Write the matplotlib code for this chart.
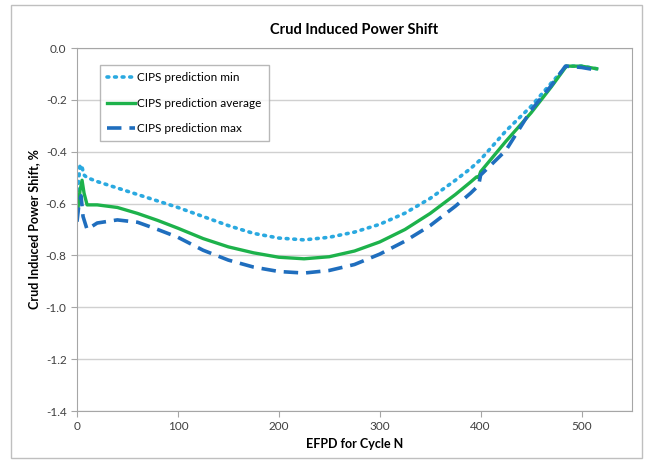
import matplotlib
matplotlib.use("Agg")
import matplotlib.pyplot as plt
from matplotlib.patches import Rectangle

plt.rcParams['font.family'] = ['Lato', 'DejaVu Sans']

# CIPS prediction min (dotted)
x_min = [0, 3, 5, 7, 10, 20, 40, 60, 80, 100, 125, 150, 175, 200, 225, 250, 275,
         300, 325, 350, 375, 390, 400, 425, 450, 470, 485, 500, 515]
y_min = [-0.58, -0.45, -0.46, -0.49, -0.50, -0.515, -0.54, -0.565, -0.59, -0.615,
         -0.65, -0.685, -0.715, -0.733, -0.74, -0.73, -0.71, -0.68, -0.637, -0.58,
         -0.51, -0.465, -0.43, -0.32, -0.225, -0.135, -0.07, -0.07, -0.08]

# CIPS prediction average (solid)
x_avg = [0, 3, 5, 7, 10, 20, 40, 60, 80, 100, 125, 150, 175, 200, 225, 250, 275,
         300, 325, 350, 375, 390, 396, 398, 400, 425, 450, 470, 485, 500, 515]
y_avg = [-0.65, -0.55, -0.51, -0.56, -0.605, -0.605, -0.615, -0.638, -0.665, -0.695,
         -0.735, -0.767, -0.79, -0.807, -0.813, -0.805, -0.783, -0.748, -0.70,
         -0.638, -0.565, -0.517, -0.497, -0.50, -0.477, -0.36, -0.25, -0.15, -0.07,
         -0.07, -0.08]

# CIPS prediction max (dashed)
x_max = [0, 2, 4, 6, 10, 20, 40, 60, 80, 100, 125, 150, 175, 200, 225, 250, 275,
         300, 325, 350, 375, 390, 398, 400, 425, 450, 470, 484, 500, 515]
y_max = [-0.67, -0.60, -0.57, -0.65, -0.70, -0.675, -0.663, -0.672, -0.70, -0.73,
         -0.78, -0.818, -0.845, -0.862, -0.868, -0.858, -0.835, -0.795, -0.745,
         -0.685, -0.61, -0.56, -0.53, -0.49, -0.395, -0.24, -0.145, -0.07, -0.075,
         -0.085]

fig = plt.figure(figsize=(6.53, 4.66), dpi=100)
ax = fig.add_axes([77/653, 55/466, 555/653, 363/466])

# outer chart border
fig.add_artist(Rectangle((11/653, 8/466), 631/653, 453/466, transform=fig.transFigure,
                         fill=False, edgecolor='#BFBFBF', linewidth=1.0))

ax.plot(x_min, y_min, color='#2AA9E0', linewidth=2.6, linestyle=(0, (0.5, 1.6)),
        dash_capstyle='round', label='CIPS prediction min')
ax.plot(x_avg, y_avg, color='#1DB24B', linewidth=2.4, label='CIPS prediction average')
ax.plot(x_max, y_max, color='#1F6EBE', linewidth=2.6, linestyle=(0, (4, 2.2)),
        label='CIPS prediction max')

ax.set_xlim(0, 550)
ax.set_ylim(-1.4, 0.0)
ax.set_xticks([0, 100, 200, 300, 400, 500])
ax.set_yticks([0.0, -0.2, -0.4, -0.6, -0.8, -1.0, -1.2, -1.4])
ax.set_yticklabels(['0.0', '-0.2', '-0.4', '-0.6', '-0.8', '-1.0', '-1.2', '-1.4'])
ax.yaxis.grid(True, color='#D0D0D0', linewidth=1.0)
ax.set_axisbelow(True)
for s in ax.spines.values():
    s.set_color('#A6A6A6')
ax.tick_params(colors='#A6A6A6', labelcolor='#404040', labelsize=8.5, length=4)

ax.set_title('Crud Induced Power Shift', fontsize=10.5, fontweight='bold', pad=10)
ax.set_xlabel('EFPD for Cycle N', fontsize=9, fontweight='bold')
ax.set_ylabel('Crud Induced Power Shift, %', fontsize=9, fontweight='bold')

leg = ax.legend(loc='upper left', bbox_to_anchor=(0.03, 0.97), fontsize=8.5,
                fancybox=False, edgecolor='#A6A6A6', handlelength=2.4,
                borderpad=0.6, labelspacing=1.25, handletextpad=0.2)
leg.get_frame().set_linewidth(1.0)

fig.savefig('out.png', dpi=100)
